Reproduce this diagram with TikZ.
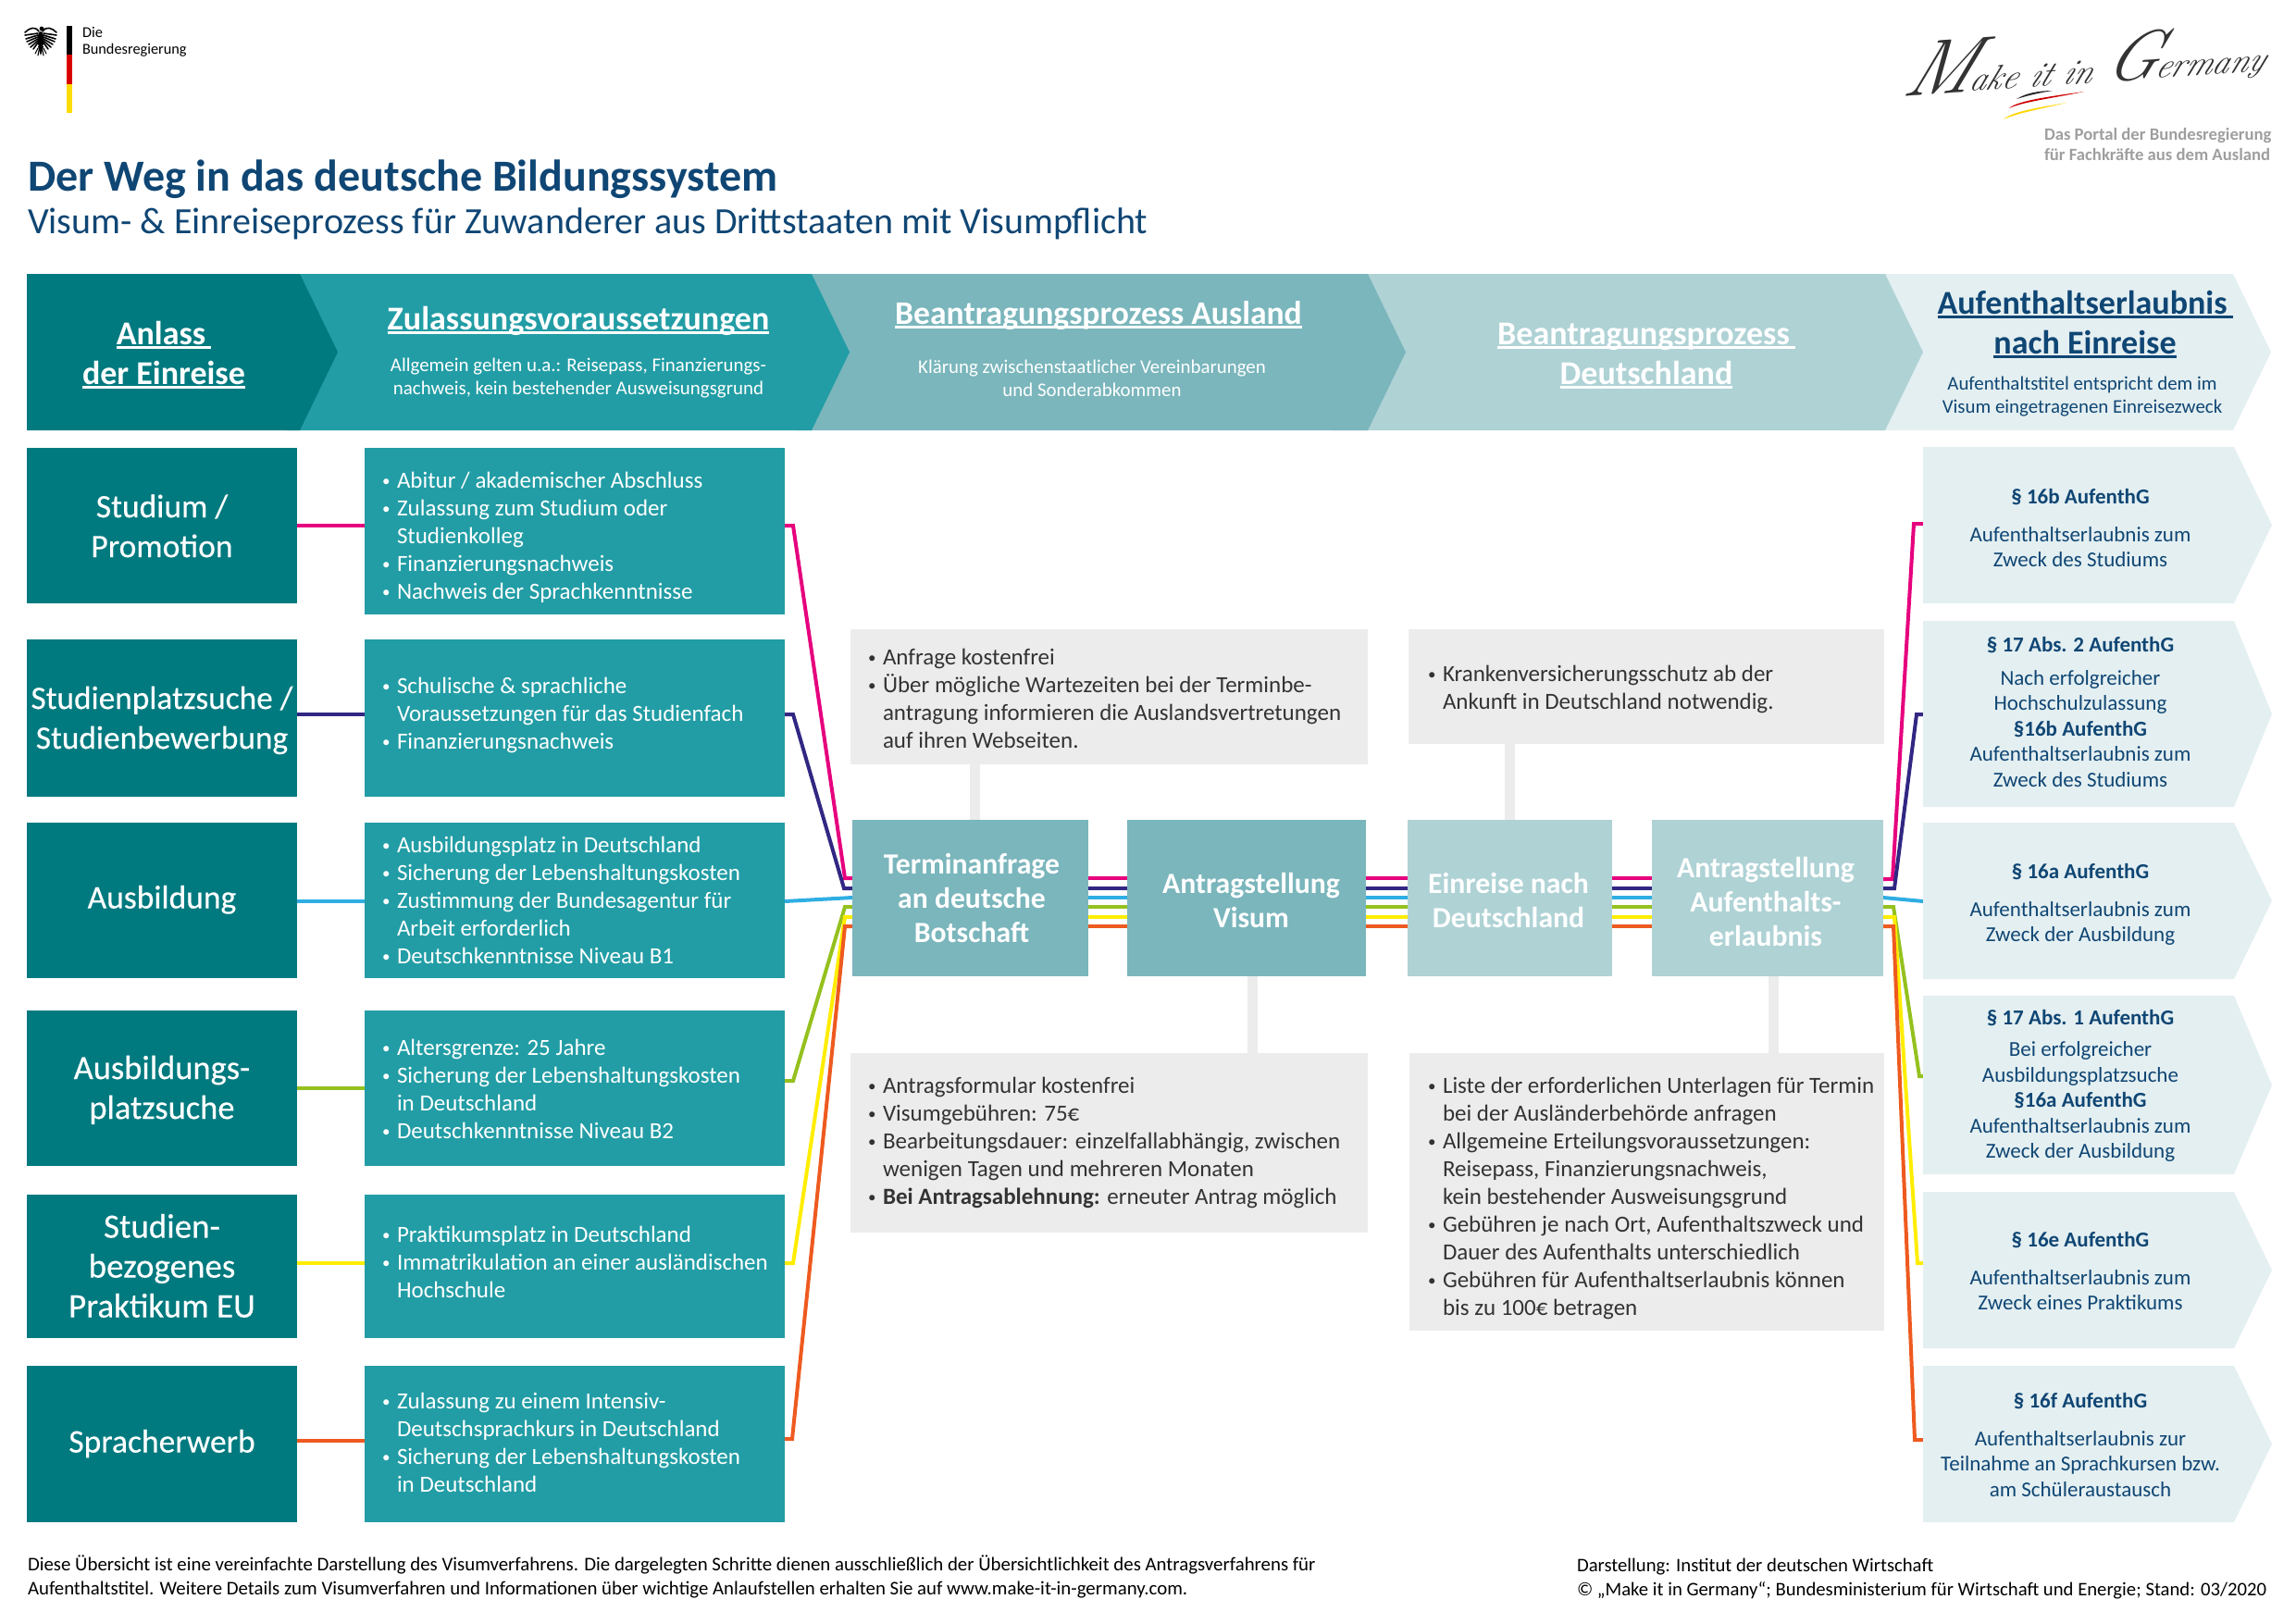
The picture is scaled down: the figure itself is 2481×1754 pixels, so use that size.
\documentclass[tikz,border=0pt]{standalone}
\usepackage{fontspec}
\setmainfont{Carlito}
\newfontfamily\medfont[FakeBold=0.35]{Carlito}
\newfontfamily\sigfont{Latin Modern Roman}
\usetikzlibrary{backgrounds,calc}
\definecolor{teal1}{HTML}{007A7F}
\definecolor{teal2}{HTML}{229DA5}
\definecolor{teal3}{HTML}{7AB6BC}
\definecolor{teal4}{HTML}{AFD2D5}
\definecolor{teal5}{HTML}{E4EFF1}
\definecolor{navy}{HTML}{0F4674}
\definecolor{greybox}{HTML}{ECECEC}
\definecolor{ink}{HTML}{333333}
\definecolor{cmag}{HTML}{E6007E}
\definecolor{cind}{HTML}{312783}
\definecolor{ccya}{HTML}{2FAEE3}
\definecolor{cgre}{HTML}{95C11F}
\definecolor{cyel}{HTML}{FFED00}
\definecolor{cora}{HTML}{EE5A1F}
\newcommand\fs[2]{\fontsize{#1pt}{#2pt}\selectfont}
\newcommand\bl{\hbox to 17pt{\kern1pt\raisebox{1.5pt}{\fontsize{17pt}{17pt}\selectfont\textbullet}\hss}}
\newcommand\ct{\hspace*{17pt}}
\newcommand\ul[2][5]{\setbox0\hbox{#2}\rlap{\raisebox{-#1pt}{\rule{\wd0}{3pt}}}\box0 }
\newcommand\bx[6]{\node[#6,anchor=north west,inner sep=0pt,outer sep=0pt,minimum width={(#4-#2)*1pt},minimum height={(#5-#3)*1pt}] (#1) at (#2,#3) {};}
\newcommand\tx[5][]{\node[txt,#1] (#2) at (#3,#4) {\strut #5\strut};}
\newcommand\chev[6]{\fill[#6] (#1,#2) -- (#3,#2) -- (#4,{(#2+#5)/2}) -- (#3,#5) -- (#1,#5) -- cycle;}
\tikzset{
  txt/.style={inner sep=0pt,outer sep=0pt},
  lbox/.style={fill=teal1},
  cbox/.style={fill=teal2},
  gbox/.style={fill=greybox},
  pbox/.style={fill=teal3},
  qbox/.style={fill=teal4},
  link/.style={line width=4pt,line cap=butt,line join=miter},
  stem/.style={draw=greybox,line width=11pt},
  ctext/.style={anchor=west,align=left,text=white,font=\fs{25}{30}},
  gtext/.style={anchor=west,align=left,text=ink,font=\fs{25}{30}},
  ltext/.style={align=center,text=white,font=\medfont\fs{35.5}{43}},
  ptext/.style={align=center,text=white,font=\bfseries\fs{31.7}{37}},
  rtext/.style={align=center,text=navy,font=\fs{23}{27.5}},
  htext/.style={align=center,font=\bfseries\fs{36}{43}},
  stext/.style={align=center,font=\fs{20.9}{25}},
}
\begin{document}
\begin{tikzpicture}[x=1pt,y=-1pt]
\useasboundingbox (0,0) rectangle (2481,1754);
% --- logo left
\fill[black] (72,28) rectangle (78,59);
\fill[red!85!black] (72,59) rectangle (78,91);
\fill[yellow!80!orange] (72,91) rectangle (78,122);
\node[txt,anchor=west,align=left,font=\fs{16.3}{18}] (brd) at (89,46) {\strut Die\\Bundesregierung\strut};
\fill[black] (44,43) ellipse (3.4 and 9);
\fill[black] (45,31) circle (2.4);
\fill[black] (46,30) -- (49,31.5) -- (46,33) -- cycle;
\foreach \s in {-1,1}{
  \begin{scope}[xshift=44pt,xscale=\s,line width=1.6pt,line cap=round]
    \draw (2,34) .. controls (6,28) and (12,30) .. (17,35);
    \draw (3,36) -- (17,38);
    \draw (3,38) -- (16,42);
    \draw (3,40) -- (15,45);
    \draw (3,42) -- (13,48);
    \draw (3,44) -- (11,51);
    \draw (3,46) -- (8,53);
    \draw[line width=1.1pt] (3,52) -- (6,58);
    \draw[line width=1.1pt] (1.5,52) -- (3,60);
  \end{scope}
}
\fill[black] (41,50) -- (47,50) -- (44,60) -- cycle;
% --- logo right
\node[txt,anchor=base west,rotate=4,text=ink,font=\sigfont\itshape\fs{37}{37},xslant=0.45] (mig) at (2053,104) {{\fs{84}{84}M}ake it in {\fs{74}{74}G}ermany};
\fill[black!85] (2179,107) .. controls (2190,100) and (2205,98) .. (2218,98) .. controls (2205,100) and (2192,103) .. cycle;
\fill[red!80!black] (2171,117) .. controls (2180,108) and (2225,103) .. (2252,99) .. controls (2225,105) and (2185,110) .. cycle;
\fill[yellow!75!orange] (2165,129) .. controls (2175,120) and (2205,116) .. (2233,111) .. controls (2205,118) and (2180,122) .. cycle;
\node[txt,anchor=west,align=left,text=black!38,font=\bfseries\fs{18.7}{22}] (portal) at (2209,158) {\strut Das Portal der Bundesregierung\\für Fachkräfte aus dem Ausland\strut};
% --- title
\node[txt,anchor=base west,text=navy,font=\bfseries\fs{48}{48}] (title) at (30,206) {Der Weg in das deutsche Bildungssystem};
\node[txt,anchor=base west,text=navy,font=\fs{40}{40}] (subtitle) at (30,252) {Visum- \& Einreiseprozess für Zuwanderer aus Drittstaaten mit Visumpflicht};
% --- header chevrons
\chev{1990}{296}{2413}{2454}{465}{teal5}
\chev{1440}{296}{2037}{2078}{465}{teal4}
\chev{860}{296}{1478}{1519}{465}{teal3}
\chev{310}{296}{877}{918}{465}{teal2}
\chev{29}{296}{324}{365}{465}{teal1}
\tx[htext,text=white]{h1}{177}{385}{\ul{Anlass\hspace{6pt}}\\\ul{der Einreise}}
\tx[htext,text=white,font=\bfseries\fs{36}{36}]{h2}{625}{349}{\ul{Zulassungsvoraussetzungen}}
\tx[stext,text=white]{h2s}{625}{409}{Allgemein gelten u.a.: Reisepass, Finanzierungs-\\nachweis, kein bestehender Ausweisungsgrund}
\tx[htext,text=white,font=\bfseries\fs{35.6}{36}]{h3}{1187}{343}{\ul{Beantragungsprozess Ausland}}
\tx[stext,text=white]{h3s}{1180}{411}{Klärung zwischenstaatlicher Vereinbarungen\\und Sonderabkommen}
\tx[htext,text=white]{h4}{1779}{385}{\ul{Beantragungsprozess\hspace{6pt}}\\\ul{Deutschland}}
\tx[htext,text=navy]{h5}{2253}{352}{\ul{Aufenthaltserlaubnis\hspace{6pt}}\\\ul{nach Einreise}}
\tx[stext,text=navy]{h5s}{2250}{429}{Aufenthaltstitel entspricht dem im\\Visum eingetragenen Einreisezweck}
% --- left column
\bx{l1}{29}{484}{321}{652}{lbox}
\bx{l2}{29}{691}{321}{861}{lbox}
\bx{l3}{29}{889}{321}{1057}{lbox}
\bx{l4}{29}{1092}{321}{1260}{lbox}
\bx{l5}{29}{1291}{321}{1446}{lbox}
\bx{l6}{29}{1476}{321}{1645}{lbox}
\tx[ltext]{lt1}{175}{572}{Studium /\\Promotion}
\tx[ltext,font=\medfont\fs{35.3}{43}]{lt2}{175}{779}{Studienplatzsuche /\\Studienbewerbung}
\tx[ltext]{lt3}{175}{973}{Ausbildung}
\tx[ltext,font=\medfont\fs{36.5}{43}]{lt4}{175}{1179}{Ausbildungs-\\platzsuche}
\tx[ltext,font=\medfont\fs{37}{43}]{lt5}{175}{1372}{Studien-\\bezogenes\\Praktikum EU}
\tx[ltext]{lt6}{175}{1561}{Spracherwerb}
% --- second column
\bx{c1}{394}{484}{848}{664}{cbox}
\bx{c2}{394}{691}{848}{861}{cbox}
\bx{c3}{394}{889}{848}{1057}{cbox}
\bx{c4}{394}{1092}{848}{1260}{cbox}
\bx{c5}{394}{1291}{848}{1446}{cbox}
\bx{c6}{394}{1476}{848}{1645}{cbox}
\tx[ctext]{ct1}{412}{581}{\bl Abitur / akademischer Abschluss\\\bl Zulassung zum Studium oder\\\ct Studienkolleg\\\bl Finanzierungsnachweis\\\bl Nachweis der Sprachkenntnisse}
\tx[ctext]{ct2}{412}{773}{\bl Schulische \& sprachliche\\\ct Voraussetzungen für das Studienfach\\\bl Finanzierungsnachweis}
\tx[ctext]{ct3}{412}{975}{\bl Ausbildungsplatz in Deutschland\\\bl Sicherung der Lebenshaltungskosten\\\bl Zustimmung der Bundesagentur für\\\ct Arbeit erforderlich\\\bl Deutschkenntnisse Niveau B1}
\tx[ctext]{ct4}{412}{1179}{\bl Altersgrenze: 25 Jahre\\\bl Sicherung der Lebenshaltungskosten\\\ct in Deutschland\\\bl Deutschkenntnisse Niveau B2}
\tx[ctext]{ct5}{412}{1366}{\bl Praktikumsplatz in Deutschland\\\bl Immatrikulation an einer ausländischen\\\ct Hochschule}
\tx[ctext]{ct6}{412}{1561}{\bl Zulassung zu einem Intensiv-\\\ct Deutschsprachkurs in Deutschland\\\bl Sicherung der Lebenshaltungskosten\\\ct in Deutschland}
% --- process boxes
\bx{p1}{921}{886}{1176}{1055}{pbox}
\bx{p2}{1218}{886}{1476}{1055}{pbox}
\bx{p3}{1521}{886}{1742}{1055}{qbox}
\bx{p4}{1785}{886}{2035}{1055}{qbox}
\tx[ptext]{pt1}{1050}{974}{Terminanfrage\\an deutsche\\Botschaft}
\tx[ptext]{pt2}{1352}{977}{Antragstellung\\Visum}
\tx[ptext]{pt3}{1630}{977}{Einreise nach\\Deutschland}
\tx[ptext]{pt4}{1908}{978}{Antragstellung\\Aufenthalts-\\erlaubnis}
% --- grey boxes
\bx{g1}{919}{680}{1478}{826}{gbox}
\bx{g2}{1522}{680}{2036}{804}{gbox}
\bx{g3}{919}{1138}{1478}{1332}{gbox}
\bx{g4}{1523}{1138}{2036}{1438}{gbox}
\tx[gtext]{gt1}{937}{757}{\bl Anfrage kostenfrei\\\bl Über mögliche Wartezeiten bei der Terminbe-\\\ct antragung informieren die Auslandsvertretungen\\\ct auf ihren Webseiten.}
\tx[gtext]{gt2}{1542}{745}{\bl Krankenversicherungsschutz ab der\\\ct Ankunft in Deutschland notwendig.}
\tx[gtext]{gt3}{937}{1235}{\bl Antragsformular kostenfrei\\\bl Visumgebühren: 75€\\\bl Bearbeitungsdauer: einzelfallabhängig, zwischen\\\ct wenigen Tagen und mehreren Monaten\\\bl \textbf{Bei Antragsablehnung:} erneuter Antrag möglich}
\tx[gtext]{gt4}{1542}{1295}{\bl Liste der erforderlichen Unterlagen für Termin\\\ct bei der Ausländerbehörde anfragen\\\bl Allgemeine Erteilungsvoraussetzungen:\\\ct Reisepass, Finanzierungsnachweis,\\\ct kein bestehender Ausweisungsgrund\\\bl Gebühren je nach Ort, Aufenthaltszweck und\\\ct Dauer des Aufenthalts unterschiedlich\\\bl Gebühren für Aufenthaltserlaubnis können\\\ct bis zu 100€ betragen}
% --- right column arrows
\chev{2078}{483}{2414}{2455}{652}{teal5}
\chev{2078}{671}{2414}{2455}{872}{teal5}
\chev{2078}{889}{2414}{2455}{1058}{teal5}
\chev{2078}{1076}{2414}{2455}{1269}{teal5}
\chev{2078}{1288}{2414}{2455}{1457}{teal5}
\chev{2078}{1476}{2414}{2455}{1645}{teal5}
\tx[rtext]{r1}{2248}{573}{\textbf{§ 16b AufenthG}\\[13pt]Aufenthaltserlaubnis zum\\Zweck des Studiums}
\tx[rtext]{r2}{2248}{772}{\textbf{§ 17 Abs. 2 AufenthG}\\[8pt]Nach erfolgreicher\\Hochschulzulassung\\\textbf{§16b AufenthG}\\Aufenthaltserlaubnis zum\\Zweck des Studiums}
\tx[rtext]{r3}{2248}{978}{\textbf{§ 16a AufenthG}\\[13pt]Aufenthaltserlaubnis zum\\Zweck der Ausbildung}
\tx[rtext]{r4}{2248}{1174}{\textbf{§ 17 Abs. 1 AufenthG}\\[7pt]Bei erfolgreicher\\Ausbildungsplatzsuche\\\textbf{§16a AufenthG}\\Aufenthaltserlaubnis zum\\Zweck der Ausbildung}
\tx[rtext]{r5}{2248}{1376}{\textbf{§ 16e AufenthG}\\[13pt]Aufenthaltserlaubnis zum\\Zweck eines Praktikums}
\tx[rtext]{r6}{2248}{1564}{\textbf{§ 16f AufenthG}\\[13pt]Aufenthaltserlaubnis zur\\Teilnahme an Sprachkursen bzw.\\am Schüleraustausch}
% --- footer
\node[txt,anchor=west,align=left,font=\fs{20.85}{26}] (fl) at (30,1705) {\strut Diese Übersicht ist eine vereinfachte Darstellung des Visumverfahrens. Die dargelegten Schritte dienen ausschließlich der Übersichtlichkeit des Antragsverfahrens für\\Aufenthaltstitel. Weitere Details zum Visumverfahren und Informationen über wichtige Anlaufstellen erhalten Sie auf www.make-it-in-germany.com.\strut};
\node[txt,anchor=west,align=left,font=\fs{20.7}{26}] (fr) at (1704,1706) {\strut Darstellung: Institut der deutschen Wirtschaft\\© „Make it in Germany“; Bundesministerium für Wirtschaft und Energie; Stand: 03/2020\strut};
% --- way points
\coordinate (a1) at (857,568); \coordinate (b1) at (913,949);
\coordinate (a2) at (857,772); \coordinate (b2) at (912,960);
\coordinate (b3) at (848,974); \coordinate (e3) at (921,970);
\coordinate (a4) at (857,1168); \coordinate (b4) at (913,980);
\coordinate (a5) at (857,1365); \coordinate (b5) at (913,991);
\coordinate (a6) at (856,1555); \coordinate (b6) at (913,1001);
\coordinate (u1) at (2045,950); \coordinate (v1) at (2068,566); \coordinate (w1) at (2078,566);
\coordinate (u2) at (2047,960); \coordinate (v2) at (2071,772); \coordinate (w2) at (2078,772);
\coordinate (u3) at (2035,970); \coordinate (w3) at (2078,974);
\coordinate (u4) at (2046,980); \coordinate (v4) at (2074,1163); \coordinate (w4) at (2078,1163);
\coordinate (u5) at (2047,991); \coordinate (v5) at (2072,1365); \coordinate (w5) at (2078,1365);
\coordinate (u6) at (2046,1001); \coordinate (v6) at (2069,1556); \coordinate (w6) at (2078,1556);
\begin{pgfonlayer}{background}
\draw[stem] (g1.south -| 1053,0) -- (p1.north -| 1053,0);
\draw[stem] (p2.south -| 1353,0) -- (g3.north -| 1353,0);
\draw[stem] (g2.south -| 1631,0) -- (p3.north -| 1631,0);
\draw[stem] (p4.south -| 1916,0) -- (g4.north -| 1916,0);
% left part
\draw[link,cmag] (l1.east |- a1) -- (c1.west |- a1);
\draw[link,cind] (l2.east |- a2) -- (c2.west |- a2);
\draw[link,ccya] (l3.east |- b3) -- (c3.west |- b3);
\draw[link,cgre] (l4.east) -- (c4.west);
\draw[link,cyel] (l5.east |- a5) -- (c5.west |- a5);
\draw[link,cora] (l6.east |- 0,1557) -- (c6.west |- 0,1557);
\draw[link,cmag] (c1.east |- a1) -- (a1) -- (b1) -- (p1.west |- b1);
\draw[link,cind] (c2.east |- a2) -- (a2) -- (b2) -- (p1.west |- b2);
\draw[link,ccya] (b3) -- (e3);
\draw[link,cgre] (c4.east |- a4) -- (a4) -- (b4) -- (p1.west |- b4);
\draw[link,cyel] (c5.east |- a5) -- (a5) -- (b5) -- (p1.west |- b5);
\draw[link,cora] (c6.east |- a6) -- (a6) -- (b6) -- (p1.west |- b6);
% middle
\foreach \c/\k in {cmag/b1,cind/b2,ccya/e3,cgre/b4,cyel/b5,cora/b6}{
  \draw[link,\c] (p1.east |- \k) -- (p2.west |- \k);
  \draw[link,\c] (p2.east |- \k) -- (p3.west |- \k);
  \draw[link,\c] (p3.east |- \k) -- (p4.west |- \k);
}
% right
\draw[link,cmag] (p4.east |- u1) -- (u1) -- (v1) -- (w1);
\draw[link,cind] (p4.east |- u2) -- (u2) -- (v2) -- (w2);
\draw[link,ccya] (u3) -- (w3);
\draw[link,cgre] (p4.east |- u4) -- (u4) -- (v4) -- (w4);
\draw[link,cyel] (p4.east |- u5) -- (u5) -- (v5) -- (w5);
\draw[link,cora] (p4.east |- u6) -- (u6) -- (v6) -- (w6);
\end{pgfonlayer}
\end{tikzpicture}
\end{document}
